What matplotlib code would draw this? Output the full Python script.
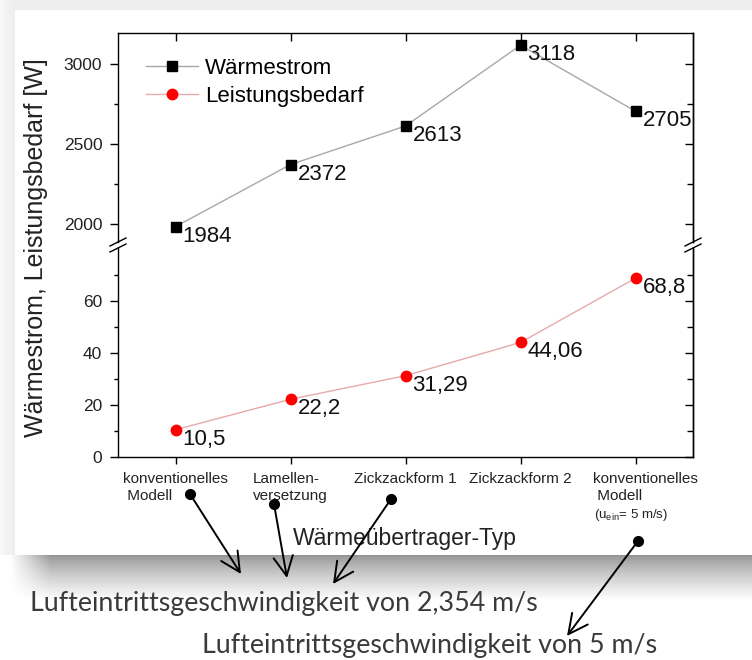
import numpy as np
import matplotlib
matplotlib.use("Agg")
import matplotlib.pyplot as plt
from matplotlib.lines import Line2D

plt.rcParams["font.family"] = ["Liberation Sans", "DejaVu Sans"]
plt.rcParams["mathtext.fontset"] = "custom"
plt.rcParams["mathtext.rm"] = "Liberation Sans"
plt.rcParams["mathtext.it"] = "Liberation Sans:italic"

# data
categories = ["konventionelles\n Modell", "Lamellen-\nversetzung", "Zickzackform 1",
              "Zickzackform 2", "konventionelles\n Modell"]
positions = [1, 2, 3, 4, 5]
heat_flow = [1984, 2372, 2613, 3118, 2705]
power_demand = [10.5, 22.2, 31.29, 44.06, 68.8]
series_names = ["Wärmestrom", "Leistungsbedarf"]
upper_ticks = [2000, 2500, 3000]
upper_minor = [2250, 2750]
lower_ticks = [0, 20, 40, 60]
lower_minor = [10, 30, 50, 70]
notes = ["Lufteintrittsgeschwindigkeit von 2,354 m/s", "Lufteintrittsgeschwindigkeit von 5 m/s"]

W, H = 752, 660
fig = plt.figure(figsize=(W / 100, H / 100), dpi=100)


def fx(px):
    return px / W


def fy(py):
    return 1 - py / H


# background: card with drop shadow
img = np.ones((H, W))
img[:10, :] = 0.93
img[:555, :15] = np.linspace(0.97, 0.93, 15)[None, :]
rows = np.arange(555, 600)
shade = 0.58 + 0.42 * ((rows - 555) / 45.0) ** 0.8
cols = np.arange(W)
fade = np.clip((cols - 10) / 40.0, 0, 1)
img[555:600, :] = 1 - (1 - shade[:, None]) * fade[None, :]
bg = fig.add_axes([0, 0, 1, 1])
bg.imshow(img, cmap="gray", vmin=0, vmax=1, aspect="auto", interpolation="nearest")
bg.set_axis_off()
bg.set_zorder(-5)

# axes (broken y axis)
left, right, top, gap_top, gap_bot, bottom = 118, 693, 32.7, 242, 248, 457
ax_u = fig.add_axes([fx(left), fy(gap_top), fx(right - left), (gap_top - top) / H])
ax_l = fig.add_axes([fx(left), fy(bottom), fx(right - left), (bottom - gap_bot) / H])
for ax in (ax_u, ax_l):
    ax.set_facecolor("none")
    ax.set_xlim(0.5, 5.5)
    for s in ax.spines.values():
        s.set_linewidth(1.0)
ax_u.set_ylim(1888, 3196)
ax_l.set_ylim(0, 80.4)
ax_u.spines["bottom"].set_visible(False)
ax_l.spines["top"].set_visible(False)

l1, = ax_u.plot(positions, heat_flow, color="#a8a8a8", lw=1.0, marker="s", ms=6.5,
                mfc="black", mec="black", label=series_names[0])
l2, = ax_l.plot(positions, power_demand, color="#e8a9a9", lw=1.0, marker="o", ms=7.5,
                mfc="#ff0000", mec="#ff0000", label=series_names[1])

for x, v in zip(positions, heat_flow):
    ax_u.annotate(str(v), (x, v), xytext=(7, 1), textcoords="offset pixels",
                  ha="left", va="top", fontsize=16, color="#111111")
for x, v in zip(positions, power_demand):
    ax_l.annotate(str(v).replace(".", ","), (x, v), xytext=(7, 1), textcoords="offset pixels",
                  ha="left", va="top", fontsize=16, color="#111111")

# ticks
ax_u.set_yticks(upper_ticks)
ax_u.set_yticks(upper_minor, minor=True)
ax_l.set_yticks(lower_ticks)
ax_l.set_yticks(lower_minor, minor=True)
for ax in (ax_u, ax_l):
    ax.set_xticks(positions)
    ax.tick_params(axis="y", which="both", left=True, right=False, direction="out",
                   labelsize=12.5, pad=5.5, width=1.0, labelcolor="#222222")
    ax.tick_params(axis="y", which="major", length=5.8)
    ax.tick_params(axis="y", which="minor", length=3.2)
    sec = ax.secondary_yaxis("right")
    sec.set_yticks(ax.get_yticks())
    sec.set_yticks(ax.get_yticks(minor=True), minor=True)
    sec.tick_params(axis="y", which="both", direction="in", labelright=False, width=1.0)
    sec.tick_params(axis="y", which="major", length=5.8)
    sec.tick_params(axis="y", which="minor", length=4.0)
    sec.spines["right"].set_linewidth(1.0)
ax_u.tick_params(axis="x", bottom=False, top=True, direction="in", length=5.8,
                 labelbottom=False, width=1.0)
ax_l.tick_params(axis="x", bottom=True, top=False, direction="out", length=5.0,
                 labelbottom=False, width=1.0)

# category labels
label_dx = [0, 0, 0, 0, 10]
for x, name, dx in zip(positions, categories, label_dx):
    ax_l.annotate(name, (x, 0), xycoords=("data", "axes fraction"), xytext=(dx, -15),
                  textcoords="offset pixels", ha="center", va="top", multialignment="left",
                  fontsize=11, linespacing=1.3, color="#222222")
ax_l.annotate(r"(u$_{\mathrm{ein}}$= 5 m/s)", (positions[-1], 0),
              xycoords=("data", "axes fraction"), xytext=(-41, -50),
              textcoords="offset pixels", ha="left", va="top", fontsize=9.5, color="#222222")

# break marks
gap_mid = (gap_top + gap_bot) / 2
for sx in (left, right):
    for dy in (-3, 3):
        fig.add_artist(Line2D([fx(sx - 8), fx(sx + 8)], [fy(gap_mid + dy + 4), fy(gap_mid + dy - 4)],
                              color="black", lw=1.0))

ax_u.legend([l1, l2], series_names, loc="upper left", bbox_to_anchor=(fx(146), fy(58)),
            bbox_transform=fig.transFigure, frameon=False, fontsize=16, handlelength=2.34,
            handletextpad=0.3, labelspacing=0.3, borderpad=0, borderaxespad=0)

fig.text(fx(405), fy(538), "Wärmeübertrager-Typ", ha="center", va="center",
         fontsize=16.5, color="#222222")
fig.text(fx(36), fy(248), "Wärmestrom, Leistungsbedarf [W]", ha="center", va="center",
         rotation=90, fontsize=18, color="#222222")

# overlay annotations
ov = fig.add_axes([0, 0, 1, 1])
ov.set_xlim(0, W)
ov.set_ylim(H, 0)
ov.set_axis_off()
ov.set_facecolor("none")
ov.set_zorder(5)
arrows = [((190, 494), (241, 574)), ((274, 504), (287, 578)),
          ((391, 499), (333, 584)), ((638, 541), (567, 636))]
for start, tip in arrows:
    ov.annotate("", xy=tip, xytext=start,
                arrowprops=dict(arrowstyle="->,head_length=0.7,head_width=0.35", lw=1.4,
                                color="black", shrinkA=0, shrinkB=0, mutation_scale=20))
    ov.plot(*start, "o", color="black", ms=7)
ov.text(30, 603, notes[0], ha="left", va="center", fontsize=19.3, family="Lato", color="#3a3a3a")
ov.text(202, 645, notes[1], ha="left", va="center", fontsize=19.3, family="Lato", color="#3a3a3a")

fig.savefig("out.png", dpi=100)
